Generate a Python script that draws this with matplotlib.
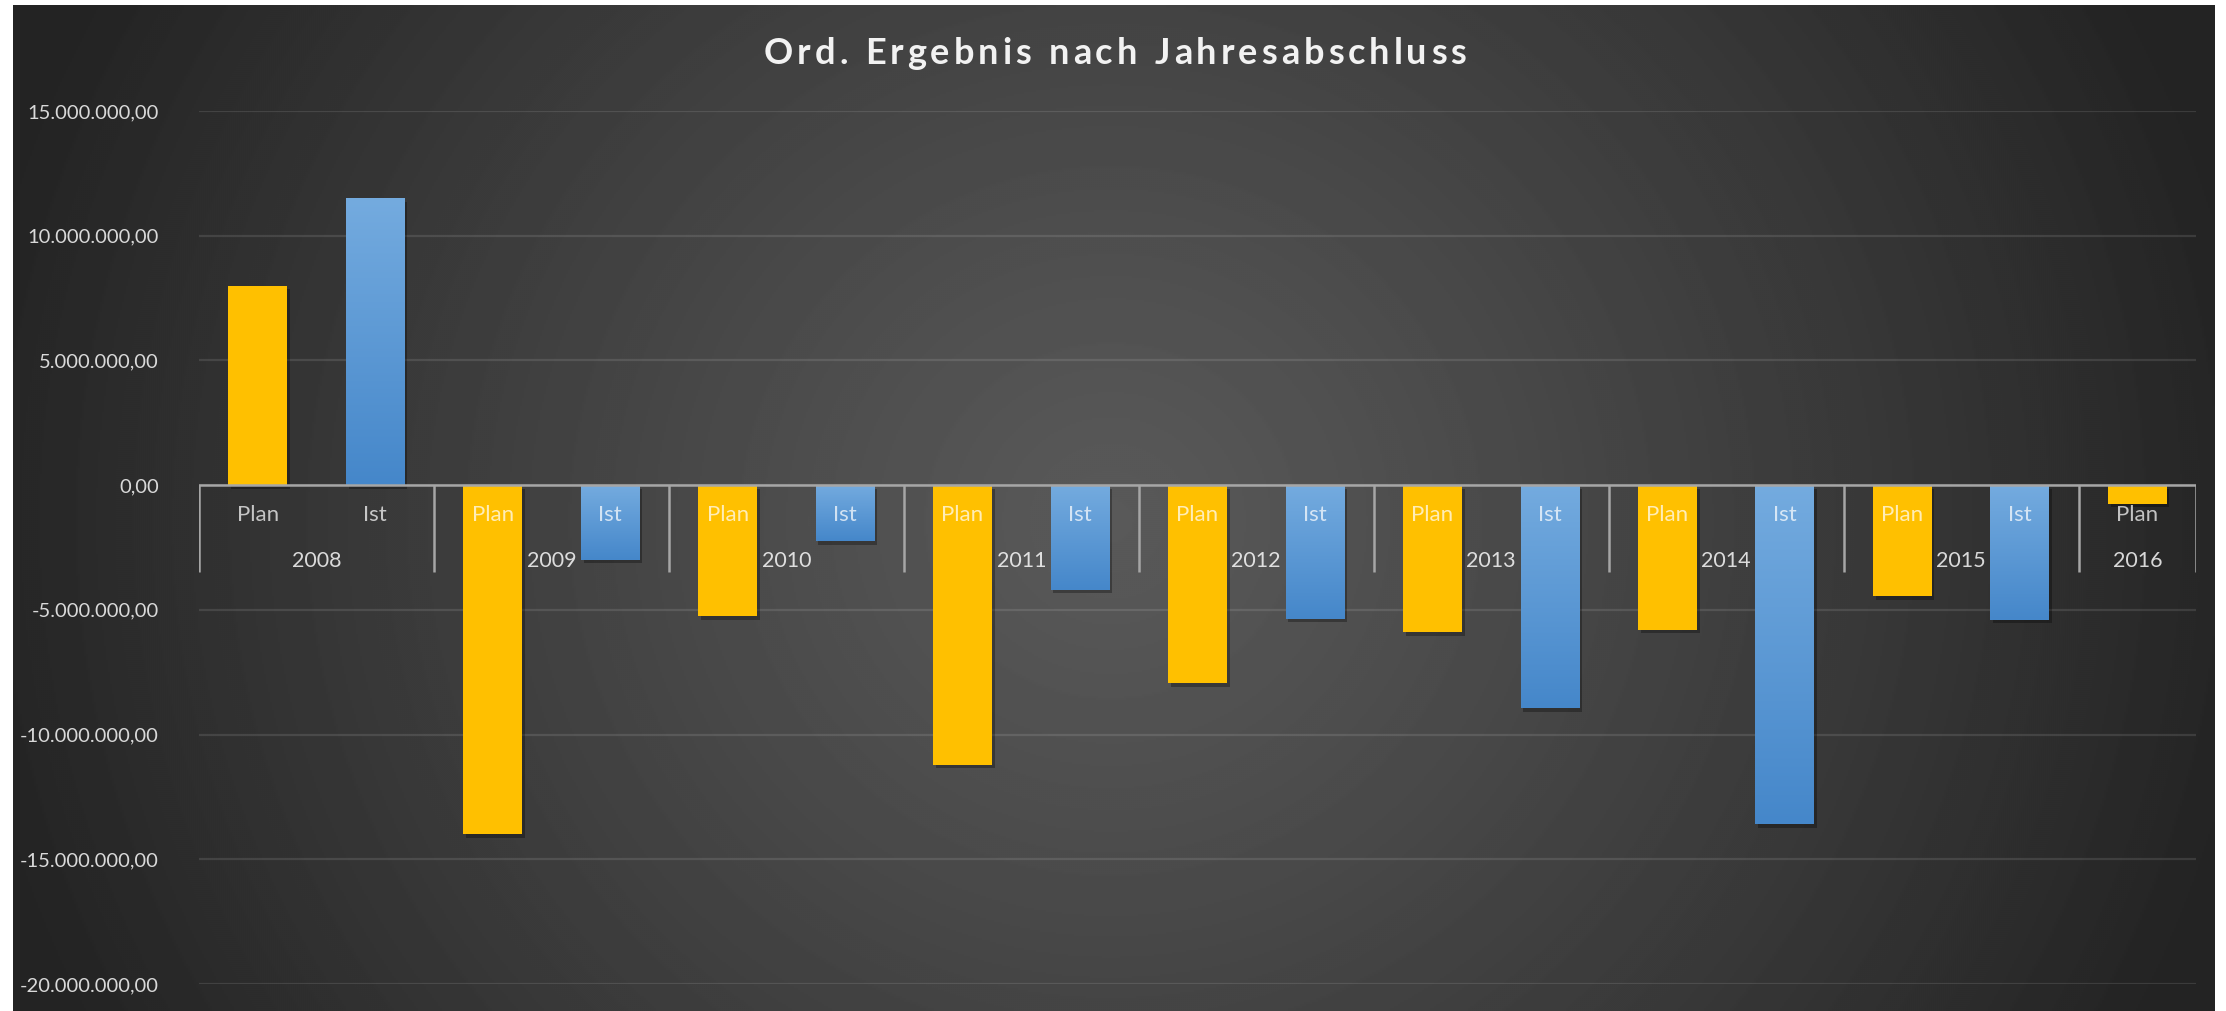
import numpy as np
import matplotlib
matplotlib.use("Agg")
import matplotlib.pyplot as plt
from matplotlib import patheffects as pe
from matplotlib.ticker import FuncFormatter, MultipleLocator
from matplotlib.colors import LinearSegmentedColormap

# --- data -----------------------------------------------------------------
years = ["2008", "2009", "2010", "2011", "2012", "2013", "2014", "2015", "2016"]
plan_values = [8.0e6, -14.0e6, -5.25e6, -11.2e6, -7.95e6, -5.9e6, -5.8e6, -4.45e6, -0.75e6]
ist_values = [11.5e6, -3.0e6, -2.25e6, -4.2e6, -5.35e6, -8.95e6, -13.6e6, -5.4e6]
title = "Ord. Ergebnis nach Jahresabschluss"

W, H, DPI = 2226, 1011, 100
plt.rcParams["font.family"] = ["Lato", "DejaVu Sans"]
fig = plt.figure(figsize=(W / DPI, H / DPI), dpi=DPI, facecolor="white")

# --- background: radial gradient panel -----------------------------------
bx0, bx1, by0, by1 = 13, 2215, 5, 1011
bg = fig.add_axes([bx0 / W, 1 - by1 / H, (bx1 - bx0) / W, (by1 - by0) / H], zorder=-10)
bg.axis("off")
xx, yy = np.meshgrid(np.arange(bx0, bx1, 2), np.arange(by0, by1, 2))
r = np.sqrt(((xx - 1110) / 1150.0) ** 2 + ((yy - 520) / 1100.0) ** 2)
r = np.clip(r, 0, 1) ** 1.15
c_center, c_edge = 0.35, 0.14
bg.imshow(c_center + (c_edge - c_center) * r, cmap="gray", vmin=0, vmax=1,
          aspect="auto", interpolation="bilinear")

# --- main axes ------------------------------------------------------------
ax_left, ax_right, ax_top, ax_bottom = 199, 2196, 111, 984
ax = fig.add_axes([ax_left / W, 1 - ax_bottom / H, (ax_right - ax_left) / W,
                   (ax_bottom - ax_top) / H])
ax.patch.set_alpha(0)
for s in ax.spines.values():
    s.set_visible(False)

ymin, ymax = -20e6, 15e6

slots, values, kinds = [], [], []
pos = 0
for i, yr in enumerate(years):
    slots.append(pos); values.append(plan_values[i]); kinds.append("Plan"); pos += 1
    if i < len(ist_values):
        slots.append(pos); values.append(ist_values[i]); kinds.append("Ist"); pos += 1
slots = np.array(slots)
values = np.array(values)

shadow = [pe.SimplePatchShadow(offset=(2, -2.5), shadow_rgbFace="black", alpha=0.3),
          pe.Normal()]
plan_idx = [k for k, t in enumerate(kinds) if t == "Plan"]
ist_idx = [k for k, t in enumerate(kinds) if t == "Ist"]

plan_bars = ax.bar(slots[plan_idx], values[plan_idx], width=0.5, color="#FFC000", zorder=3)
ist_bars = ax.bar(slots[ist_idx], values[ist_idx], width=0.5, color="#5B9BD5", zorder=3)
for b in list(plan_bars) + list(ist_bars):
    b.set_path_effects(shadow)

blue_cmap = LinearSegmentedColormap.from_list("ist", ["#4587CA", "#74ABDF"])
grad = np.linspace(0, 1, 256).reshape(-1, 1)
for b in ist_bars:
    x0, w = b.get_x(), b.get_width()
    y0, h = b.get_y(), b.get_height()
    im = ax.imshow(grad, cmap=blue_cmap, origin="lower", aspect="auto",
                   extent=[x0, x0 + w, min(y0, y0 + h), max(y0, y0 + h)], zorder=3.5)
    im.set_clip_path(b)

ax.set_xlim(-0.5, len(slots) - 0.5)
ax.set_ylim(ymin, ymax)

# y axis
ax.yaxis.set_major_locator(MultipleLocator(5e6))
ax.yaxis.set_major_formatter(FuncFormatter(
    lambda v, p: f"{v:,.2f}".replace(",", "X").replace(".", ",").replace("X", ".")))
ax.tick_params(axis="y", length=0, pad=29, labelsize=14.5, labelcolor="#D9D9D9")
ax.set_xticks([])
ax.grid(axis="y", color="white", alpha=0.11, linewidth=1.6, zorder=0)
ax.set_axisbelow(True)

# category axis at zero
ax.axhline(0, color="#A6A6A6", linewidth=1.8, zorder=5)
zero_frac = (0 - ymin) / (ymax - ymin)
sep_len = 87 / (ax_bottom - ax_top)
bounds = [-0.5]
for i in range(len(years)):
    bounds.append(bounds[-1] + (2 if i < len(ist_values) else 1))
ax.vlines(bounds, zero_frac - sep_len, zero_frac, transform=ax.get_xaxis_transform(),
          colors="#A6A6A6", linewidth=1.8, zorder=5)

for s, k in zip(slots, kinds):
    ax.annotate(k, (s, 0), xytext=(0, -21.5), textcoords="offset points",
                ha="center", va="center", fontsize=16, color="white", alpha=0.72, zorder=6)
for i, yr in enumerate(years):
    cx = (bounds[i] + bounds[i + 1]) / 2
    ax.annotate(yr, (cx, 0), xytext=(0, -54.5), textcoords="offset points",
                ha="center", va="center", fontsize=15.5, color="white", alpha=0.82, zorder=6)

# title with expanded letter spacing
renderer = fig.canvas.get_renderer()
spacing = 4.0
title_kw = dict(fontsize=26, fontweight="bold", color="#F2F2F2", va="center")
widths = []
for ch in title:
    t = fig.text(0, 0, ch.replace(" ", "n"), **title_kw)
    wpx = t.get_window_extent(renderer).width
    if ch == " ":
        wpx *= 0.45
    widths.append(wpx)
    t.remove()
total = sum(widths) + spacing * (len(title) - 1)
x = 1115 - total / 2
for ch, wpx in zip(title, widths):
    if ch != " ":
        fig.text(x / W, 1 - 54 / H, ch, ha="left", **title_kw)
    x += wpx + spacing

fig.savefig("out.png", dpi=DPI, facecolor="white")
